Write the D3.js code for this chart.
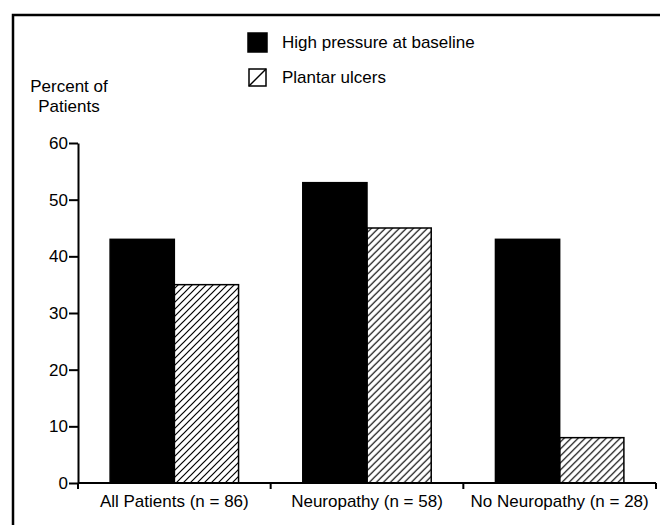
<!DOCTYPE html>
<html>
<head>
  <meta charset="utf-8">
  <script src="https://d3js.org/d3.v7.min.js"></script>
  <style>
    body { margin: 0; background: #fff; }
    text { font-family: "Liberation Sans", Arial, Helvetica, sans-serif; }
  </style>
</head>
<body>
  <script>
  // data
  var groups = ["All Patients (n = 86)", "Neuropathy (n = 58)", "No Neuropathy (n = 28)"];
  var seriesNames = ["High pressure at baseline", "Plantar ulcers"];
  var highPressure = [43, 53, 43];
  var plantarUlcers = [35, 45, 8];
  var yTicks = [0, 10, 20, 30, 40, 50, 60];

  var width = 660, height = 525;
  var margin = { left: 78, right: 4, top: 143, bottom: 42 };

  var svg = d3.select("body").append("svg")
    .attr("width", width).attr("height", height);

  // hatch pattern
  var defs = svg.append("defs");
  defs.append("pattern")
    .attr("id", "hatch")
    .attr("patternUnits", "userSpaceOnUse")
    .attr("width", 7).attr("height", 7)
    .append("path")
    .attr("d", "M0,7 L7,0 M-1.75,1.75 L1.75,-1.75 M5.25,8.75 L8.75,5.25")
    .attr("stroke", "#000")
    .attr("stroke-width", 1.2);

  // frame (only top and left edges show in the picture)
  svg.append("path")
    .attr("d", "M13," + height + " L13,15 L" + width + ",15")
    .attr("fill", "none").attr("stroke", "#000").attr("stroke-width", 2.5);

  var x0 = d3.scaleBand().domain(groups).range([margin.left, width - margin.right]).padding(0);
  var x1 = d3.scaleBand().domain(seriesNames).range([0, x0.bandwidth()]).paddingOuter(0.5).paddingInner(0);
  var y = d3.scaleLinear().domain([0, 60]).range([height - margin.bottom, margin.top]);

  var rows = groups.map(function(g, i) {
    return { group: g, values: [highPressure[i], plantarUlcers[i]] };
  });

  var g = svg.append("g");
  var grp = g.selectAll("g.grp").data(rows).enter().append("g")
    .attr("transform", function(d) { return "translate(" + x0(d.group) + ",0)"; });

  grp.selectAll("rect")
    .data(function(d) { return d.values.map(function(v, j) { return { s: seriesNames[j], v: v, j: j }; }); })
    .enter().append("rect")
    .attr("x", function(d) { return x1(d.s); })
    .attr("width", x1.bandwidth())
    .attr("y", function(d) { return y(d.v); })
    .attr("height", function(d) { return y(0) - y(d.v); })
    .attr("fill", function(d) { return d.j === 0 ? "#000" : "url(#hatch)"; })
    .attr("stroke", "#000")
    .attr("stroke-width", 1.5);

  // y axis
  var yAxis = svg.append("g")
    .attr("transform", "translate(" + margin.left + ",0)")
    .call(d3.axisLeft(y).tickValues(yTicks).tickSize(9).tickPadding(1).tickSizeOuter(0));
  yAxis.selectAll("path, line").attr("stroke", "#000").attr("stroke-width", 2);
  yAxis.selectAll("text").attr("font-size", 17).attr("fill", "#000")
    .attr("font-family", "'Liberation Sans', Arial, sans-serif");

  // x axis: ticks at group boundaries
  var bounds = groups.map(function(d) { return x0(d); }).concat([x0.range()[1]]);
  var xAxis = svg.append("g").attr("transform", "translate(0," + y(0) + ")");
  xAxis.append("line")
    .attr("x1", x0.range()[0]).attr("x2", x0.range()[1])
    .attr("stroke", "#000").attr("stroke-width", 2);
  xAxis.selectAll("line.tk").data(bounds).enter().append("line")
    .attr("class", "tk")
    .attr("x1", function(d) { return d; }).attr("x2", function(d) { return d; })
    .attr("y1", 0).attr("y2", 6)
    .attr("stroke", "#000").attr("stroke-width", 2);
  xAxis.selectAll("text").data(groups).enter().append("text")
    .attr("x", function(d) { return x0(d) + x0.bandwidth() / 2; })
    .attr("y", 24)
    .attr("text-anchor", "middle")
    .attr("font-size", 17)
    .text(function(d) { return d; });

  // y label
  svg.append("text").attr("x", 69).attr("y", 92).attr("text-anchor", "middle")
    .attr("font-size", 17).text("Percent of");
  svg.append("text").attr("x", 69).attr("y", 112).attr("text-anchor", "middle")
    .attr("font-size", 17).text("Patients");

  // legend
  var legend = svg.append("g").attr("transform", "translate(248,33)");
  var items = legend.selectAll("g").data(seriesNames).enter().append("g")
    .attr("transform", function(d, i) { return "translate(0," + (i * 35) + ")"; });
  items.append("rect")
    .attr("width", function(d, i) { return i === 0 ? 19 : 17; })
    .attr("height", function(d, i) { return i === 0 ? 19 : 17; })
    .attr("x", function(d, i) { return i === 0 ? 0 : 1; })
    .attr("y", function(d, i) { return i === 0 ? 0 : 1; })
    .attr("fill", function(d, i) { return i === 0 ? "#000" : "#fff"; })
    .attr("stroke", "#000").attr("stroke-width", 1.5);
  items.filter(function(d, i) { return i === 1; }).append("line")
    .attr("x1", 1).attr("y1", 18).attr("x2", 18).attr("y2", 1)
    .attr("stroke", "#000").attr("stroke-width", 1.5);
  items.append("text")
    .attr("x", 34).attr("y", 15)
    .attr("font-size", 17)
    .text(function(d) { return d; });
  </script>
</body>
</html>
